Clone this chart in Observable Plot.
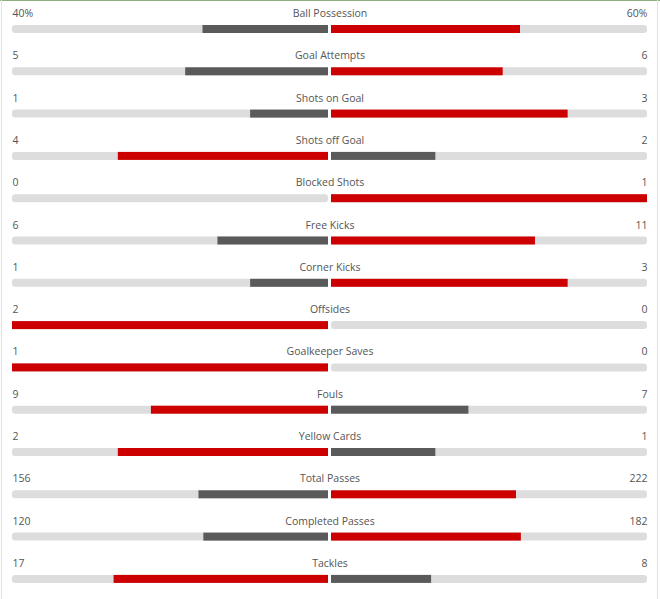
<!DOCTYPE html>
<html>
<head>
<meta charset="utf-8">
<script src="https://cdn.jsdelivr.net/npm/d3@7"></script>
<script src="https://cdn.jsdelivr.net/npm/@observablehq/plot@0.6"></script>
<style>
  html, body { margin: 0; padding: 0; background: #fff; }
  #wrap { position: relative; width: 660px; height: 599px; overflow: hidden; }
  #wrap::before { content: ""; position: absolute; left: 0; top: 0; width: 660px; height: 1px; background: #8fae80; }
  #wrap::after { content: ""; position: absolute; left: 1px; top: 0; width: 655px; height: 599px; border-left: 1px solid #e2e2e2; border-right: 1px solid #e2e2e2; pointer-events: none; }
</style>
</head>
<body>
<div id="wrap"></div>
<script>
const categories = ["Ball Possession","Goal Attempts","Shots on Goal","Shots off Goal","Blocked Shots","Free Kicks","Corner Kicks","Offsides","Goalkeeper Saves","Fouls","Yellow Cards","Total Passes","Completed Passes","Tackles"];
const leftValues  = [40, 5, 1, 4, 0, 6, 1, 2, 1, 9, 2, 156, 120, 17];
const rightValues = [60, 6, 3, 2, 1, 11, 3, 0, 0, 7, 1, 222, 182, 8];
const leftLabels  = ["40%","5","1","4","0","6","1","2","1","9","2","156","120","17"];
const rightLabels = ["60%","6","3","2","1","11","3","0","0","7","1","222","182","8"];

const RED = "#cc0000", GREY = "#5a5a5a", TRACK = "#dddddd";

const rows = categories.map((c, i) => {
  const l = leftValues[i], r = rightValues[i], t = l + r;
  return {
    cat: c,
    lFrac: t ? l / t : 0,
    rFrac: t ? r / t : 0,
    lColor: l >= r ? RED : GREY,
    rColor: r >= l ? RED : GREY,
    lLabel: leftLabels[i],
    rLabel: rightLabels[i]
  };
});

const font = "'Open Sans', sans-serif";
const bandH = 42.3;
const inTop = 25, inBot = bandH - 33;

const chart = Plot.plot({
  width: 660,
  height: 599,
  margin: 0,
  style: { background: "transparent", fontFamily: font },
  x: { domain: [-1, 1], range: [12, 647], axis: null },
  y: { domain: categories, range: [0, bandH * categories.length], padding: 0, round: false, axis: null },
  marks: [
    // tracks
    Plot.barX(rows, { y: "cat", x1: -1, x2: 0, fill: TRACK, insetTop: inTop, insetBottom: inBot, insetRight: 1.5, rx: 3 }),
    Plot.barX(rows, { y: "cat", x1: 0, x2: 1, fill: TRACK, insetTop: inTop, insetBottom: inBot, insetLeft: 1.5, rx: 3 }),
    // values
    Plot.barX(rows.filter(d => d.lFrac > 0), { y: "cat", x1: d => -d.lFrac, x2: 0, fill: "lColor", insetTop: inTop, insetBottom: inBot, insetRight: 1.5 }),
    Plot.barX(rows.filter(d => d.rFrac > 0), { y: "cat", x1: 0, x2: "rFrac", fill: "rColor", insetTop: inTop, insetBottom: inBot, insetLeft: 1.5 }),
    // labels
    Plot.text(rows, { y: "cat", x: -1, text: "lLabel", textAnchor: "start", dy: -8, fontSize: 10.5, fill: "#555" }),
    Plot.text(rows, { y: "cat", x: 1, text: "rLabel", textAnchor: "end", dy: -8, fontSize: 10.5, fill: "#555" }),
    Plot.text(rows, { y: "cat", x: 0, text: "cat", textAnchor: "middle", dy: -8, fontSize: 10.5, fill: "#555" })
  ]
});

document.getElementById("wrap").appendChild(chart);
</script>
</body>
</html>
